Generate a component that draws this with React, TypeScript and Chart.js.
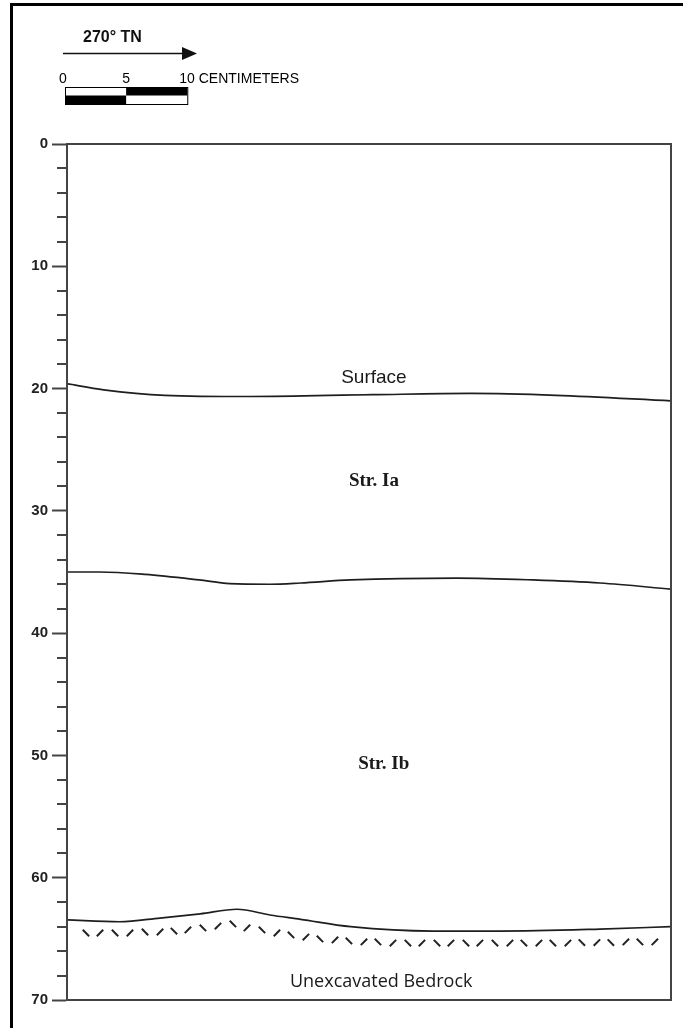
import React, { useEffect, useRef } from "react";
import { Chart, registerables } from "chart.js";

Chart.register(...registerables);

// Profile width and depth (cm)
const profileWidthCm = 49.4;
const depthMin = 0;
const depthMax = 70;
const majorDepthStep = 10;
const minorDepthTicks = [2, 4, 6, 8, 12, 14, 16, 18, 22, 24, 26, 28, 32, 34, 36, 38, 42, 44, 46, 48, 52, 54, 56, 58, 62, 64, 66, 68];

// Boundary: Surface
const surfaceX = [0, 3, 8, 15, 25, 33, 40, 49.4];
const surfaceDepth = [19.6, 20.1, 20.55, 20.65, 20.5, 20.4, 20.55, 21.0];

// Boundary: Str. Ia / Str. Ib
const iaIbX = [0, 2.7, 6.4, 10.8, 13.3, 16.6, 19.1, 23.2, 31.9, 38.1, 43.6, 49.4];
const iaIbDepth = [35.0, 35.0, 35.2, 35.65, 35.95, 36.0, 35.9, 35.65, 35.5, 35.65, 35.9, 36.4];

// Boundary: Str. Ib / bedrock
const bedrockX = [0, 4.3, 7.6, 10.9, 13.9, 16.6, 19.1, 23.2, 29.9, 35.4, 43.6, 49.4];
const bedrockDepth = [63.45, 63.6, 63.3, 62.95, 62.58, 63.05, 63.4, 64.0, 64.36, 64.36, 64.2, 64.0];

// Bedrock hatch marks
const hatchX = [1.55, 2.7, 3.93, 5.15, 6.38, 7.61, 8.75, 9.89, 11.12, 12.35, 13.57, 14.72, 15.95, 17.17, 18.32, 19.54, 20.69, 21.92, 23.06, 24.29, 25.43, 26.66, 27.88, 29.03, 30.26, 31.4, 32.63, 33.77, 35.0, 36.23, 37.37, 38.6, 39.74, 40.97, 42.11, 43.34, 44.48, 45.71, 46.86, 48.08];
const hatchDepth = [64.52, 64.52, 64.52, 64.52, 64.44, 64.44, 64.36, 64.27, 64.11, 63.95, 63.78, 64.11, 64.27, 64.52, 64.68, 64.85, 65.01, 65.09, 65.17, 65.25, 65.25, 65.34, 65.34, 65.34, 65.34, 65.34, 65.34, 65.34, 65.34, 65.34, 65.34, 65.34, 65.34, 65.34, 65.3, 65.3, 65.3, 65.25, 65.25, 65.25];

// Layer labels
const layerNames = ["Surface", "Str. Ia", "Str. Ib", "Unexcavated Bedrock"];
const layerLabelX = [25.1, 25.1, 25.9, 25.7];
const layerLabelDepth = [19.1, 27.6, 50.7, 68.5];
const layerLabelFonts = [
  "19px 'Liberation Sans', Arial, sans-serif",
  "bold 19px 'Liberation Serif', 'Times New Roman', serif",
  "bold 19px 'Liberation Serif', 'Times New Roman', serif",
  "18px 'Open Sans', sans-serif",
];

const orientationText = "270° TN";
const scaleBarCm = 10;
const scaleBarLabels = ["0", "5", "10 CENTIMETERS"];

const toPoints = (xs: number[], ys: number[]) => xs.map((x, i) => ({ x, y: ys[i] }));

const decorPlugin = {
  id: "profileDecor",
  afterDraw(chart: any) {
    const ctx = chart.ctx as CanvasRenderingContext2D;
    const area = chart.chartArea;
    const xs = chart.scales.x;
    const ys = chart.scales.y;
    ctx.save();

    // minor depth ticks
    ctx.strokeStyle = "#444";
    ctx.lineWidth = 2;
    minorDepthTicks.forEach((d) => {
      const py = Math.round(ys.getPixelForValue(d));
      ctx.beginPath();
      ctx.moveTo(area.left - 10, py);
      ctx.lineTo(area.left, py);
      ctx.stroke();
    });

    // profile frame
    ctx.strokeStyle = "#444";
    ctx.lineWidth = 2;
    ctx.strokeRect(area.left, area.top, area.right - area.left, area.bottom - area.top);

    // layer labels
    ctx.fillStyle = "#1a1a1a";
    ctx.textAlign = "center";
    ctx.textBaseline = "middle";
    layerNames.forEach((name, i) => {
      ctx.font = layerLabelFonts[i];
      ctx.fillText(name, xs.getPixelForValue(layerLabelX[i]), ys.getPixelForValue(layerLabelDepth[i]));
    });

    // outer figure frame
    ctx.strokeStyle = "#000";
    ctx.lineWidth = 3;
    ctx.beginPath();
    ctx.moveTo(11.5, chart.height);
    ctx.lineTo(11.5, 4.5);
    ctx.lineTo(chart.width, 4.5);
    ctx.stroke();

    // north arrow
    ctx.fillStyle = "#111";
    ctx.font = "bold 16px 'Liberation Sans', Arial, sans-serif";
    ctx.textAlign = "left";
    ctx.textBaseline = "alphabetic";
    ctx.fillText(orientationText, 83, 42);
    ctx.strokeStyle = "#111";
    ctx.lineWidth = 1.5;
    ctx.beginPath();
    ctx.moveTo(63, 53.5);
    ctx.lineTo(186, 53.5);
    ctx.stroke();
    ctx.beginPath();
    ctx.moveTo(197, 53.5);
    ctx.lineTo(182, 47);
    ctx.lineTo(182, 60);
    ctx.closePath();
    ctx.fill();

    // scale bar
    const unit = xs.getPixelForValue(1) - xs.getPixelForValue(0);
    const bx = 65;
    const bw = unit * scaleBarCm;
    const half = bw / 2;
    const by = 87;
    const bh = 8.5;
    ctx.fillStyle = "#000";
    ctx.fillRect(bx + half, by, half, bh);
    ctx.fillRect(bx, by + bh, half, bh);
    ctx.strokeStyle = "#000";
    ctx.lineWidth = 1;
    ctx.strokeRect(bx + 0.5, by + 0.5, bw, bh * 2);
    ctx.font = "14px 'Liberation Sans', Arial, sans-serif";
    ctx.textAlign = "center";
    ctx.fillText(scaleBarLabels[0], bx - 2, 83);
    ctx.fillText(scaleBarLabels[1], bx + half, 83);
    ctx.textAlign = "left";
    ctx.fillText(scaleBarLabels[2], bx + bw - 8, 83);

    ctx.restore();
  },
};

export default function App() {
  const canvasRef = useRef<HTMLCanvasElement | null>(null);

  useEffect(() => {
    if (!canvasRef.current) return;
    const lineStyle = {
      showLine: true,
      borderColor: "#1e1e1e",
      borderWidth: 1.7,
      pointRadius: 0,
      cubicInterpolationMode: "monotone" as const,
      fill: false,
    };
    const chart = new Chart(canvasRef.current, {
      type: "scatter",
      data: {
        datasets: [
          { label: "Surface", data: toPoints(surfaceX, surfaceDepth), ...lineStyle },
          { label: "Str. Ia / Str. Ib", data: toPoints(iaIbX, iaIbDepth), ...lineStyle },
          { label: "Bedrock", data: toPoints(bedrockX, bedrockDepth), ...lineStyle },
          {
            label: "Bedrock hatch",
            data: toPoints(hatchX, hatchDepth),
            showLine: false,
            pointStyle: "line",
            pointRadius: 4.5,
            pointBorderWidth: 2,
            pointBorderColor: "#222",
            pointBackgroundColor: "#222",
            pointRotation: (c: any) => (c.dataIndex % 2 === 0 ? 45 : -45),
          } as any,
        ],
      },
      options: {
        animation: false,
        responsive: false,
        events: [],
        layout: { padding: { left: 0, top: 144, right: 12, bottom: 28 } },
        plugins: { legend: { display: false }, tooltip: { enabled: false } },
        scales: {
          x: { type: "linear", min: 0, max: profileWidthCm, display: false },
          y: {
            type: "linear",
            reverse: true,
            min: depthMin,
            max: depthMax,
            afterFit: (scale: any) => {
              scale.width = 67;
            },
            ticks: {
              stepSize: majorDepthStep,
              padding: 4,
              color: "#222",
              font: { family: "'Liberation Sans', Arial, sans-serif", size: 15, weight: "bold" },
            },
            grid: {
              display: true,
              drawOnChartArea: false,
              drawTicks: true,
              tickLength: 15,
              tickColor: "#444",
              tickWidth: 2,
            },
            border: { display: true, color: "#444", width: 2 },
          },
        },
      },
      plugins: [decorPlugin],
    });
    return () => chart.destroy();
  }, []);

  return (
    <div style={{ position: "absolute", left: 0, top: 0, width: 683, height: 1028, background: "#fff" }}>
      <canvas ref={canvasRef} width={683} height={1028} style={{ display: "block" }} />
    </div>
  );
}
